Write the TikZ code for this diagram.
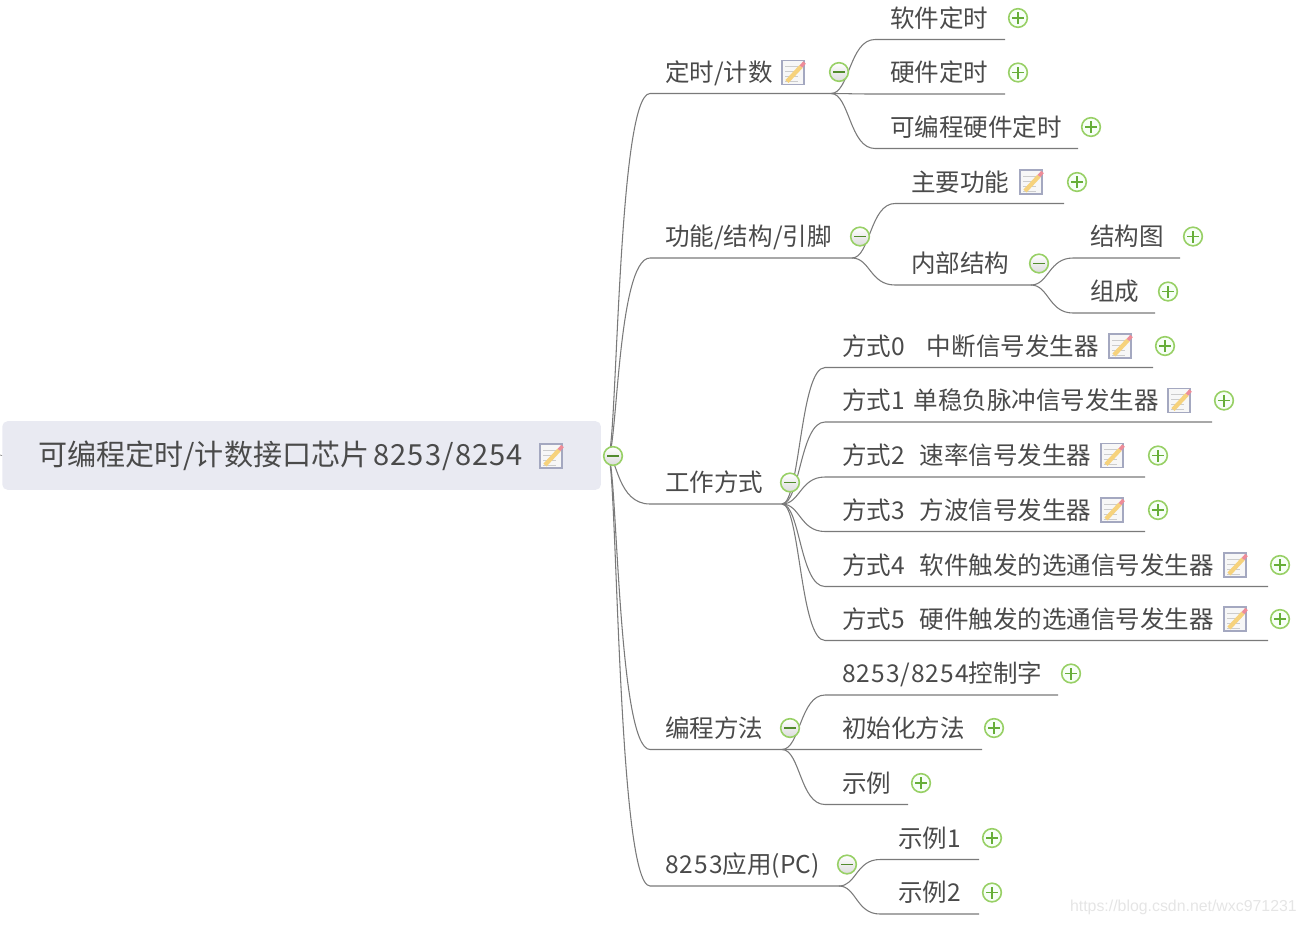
\documentclass[tikz,border=0pt]{standalone}
\usepackage{fontspec}
\setmainfont{Noto Sans CJK SC}
\newfontfamily\latfont[LetterSpace=4]{Noto Sans CJK SC}
\newcommand{\lat}[1]{{\latfont #1}}
\usetikzlibrary{calc,backgrounds,positioning}
\definecolor{rootfill}{HTML}{E9EAF2}
\definecolor{txt}{HTML}{4A4A4A}
\definecolor{linecol}{HTML}{7A7A7A}
\definecolor{btnline}{HTML}{98D066}
\definecolor{btnmark}{HTML}{66AE38}
\definecolor{iconline}{HTML}{A4A8C0}
\definecolor{pencil}{HTML}{F6D27C}
\definecolor{pencilend}{HTML}{EE8C98}
\tikzstyle{topic}=[anchor=west,inner sep=0pt,text height=16pt,text depth=2pt,text=txt,font=\fontsize{18.4}{20}\selectfont]
\tikzstyle{branch}=[draw=linecol,line width=.8pt]
\tikzstyle{btn}=[circle,inner sep=0pt,minimum size=14pt,draw=btnline,line width=1.2pt]
\tikzstyle{plusbtn}=[btn,fill=green!3,path picture={
  \draw[btnmark,line width=.8pt] ([xshift=-4.5pt]path picture bounding box.center) -- ([xshift=4.5pt]path picture bounding box.center);
  \draw[btnmark,line width=.8pt] ([yshift=-4.5pt]path picture bounding box.center) -- ([yshift=4.5pt]path picture bounding box.center);}]
\tikzstyle{minusbtn}=[btn,top color=white,bottom color=black!14,path picture={
  \draw[btnmark!80!black,line width=.9pt] ([xshift=-4.5pt]path picture bounding box.center) -- ([xshift=4.5pt]path picture bounding box.center);}]
\tikzset{noteicon/.pic={
  \draw[iconline,fill=black!3,line width=1pt] (-11,-12) rectangle (11,12);
  \foreach \y in {-6,-1,4,9} \draw[black!20,line width=.6pt] (-8,\y) -- (5,\y);
  \draw[pencil,line width=3.2pt] (-6,9) -- (8,-6);
  \draw[pencilend,line width=2.6pt] (8,-6) -- (11.5,-10);
}}
% name, parent, line start, text x, y, button x, line end, text
\newcommand{\topic}[9][plusbtn]{
  \node[topic] (#2) at (#5,#6) {#9};
  \node[#1] (#2b) at (#7,#6) {};
  \coordinate (#2s) at (#4,#6+21.5);
  \coordinate (#2e) at (#8,#6+21.5);
  \begin{pgfonlayer}{background}
    \draw[branch] (#3e) .. controls ($(#3e)!\bend!(#2s |- #3e)$) and ($(#3e |- #2s)!\bend!(#2s)$) .. (#2s) -- (#2e);
  \end{pgfonlayer}
}

\begin{document}
\begin{tikzpicture}[x=.75pt,y=-.75pt]
  \useasboundingbox (0,0) rectangle (1305,925);
  \node (root) at (2,455.5) [anchor=west,fill=rootfill,rounded corners=4pt,minimum height=51.5pt,inner xsep=27pt,text width=395pt,align=left,text=txt,font=\fontsize{21.8}{24}\selectfont] {可编程定时/计数接口芯片\hspace{3pt}\lat{8253/8254}};
  \coordinate (roote) at (608,456);
  \coordinate (stub) at (0,455);
  \draw[linecol,line width=.5pt] (stub) -- (root.west);
  \pic at (551,456) {noteicon};
  \def\bend{.22}
  \topic[minusbtn]{timing}{root}{650}{665}{72}{839}{831}{定时/计数}
  \topic[minusbtn]{func}{root}{650}{665}{236.5}{860}{852}{功能/结构/引脚}
  \topic[minusbtn]{mode}{root}{650}{665}{482.5}{790}{782}{工作方式}
  \topic[minusbtn]{prog}{root}{650}{665}{728}{790}{782}{编程方法}
  \topic[minusbtn]{appl}{root}{650}{665}{864.5}{847}{839}{\lat{8253}应用(PC)}
  \def\bend{.42}
  \topic{soft}{timing}{875}{890}{18}{1018}{1005}{软件定时}
  \topic{hard}{timing}{875}{890}{72.5}{1018}{1005}{硬件定时}
  \topic{pgm}{timing}{875}{890}{127}{1091}{1078}{可编程硬件定时}
  \pic at (793,72.5) {noteicon};
  \topic{mainf}{func}{895}{911}{182}{1077}{1064}{主要功能}
  \topic[minusbtn]{inner}{func}{895}{911}{263.5}{1039}{1031}{内部结构}
  \topic{struct}{inner}{1073}{1090}{236.5}{1193}{1180}{结构图}
  \topic{parts}{inner}{1073}{1090}{291.5}{1168}{1155}{组成}
  \pic at (1031,182) {noteicon};
  \topic{mzero}{mode}{825}{842}{346}{1165}{1153}{方式\lat{0}\hspace{16.5pt}中断信号发生器}
  \topic{mone}{mode}{825}{842}{400.5}{1224}{1212}{方式\lat{1}\hspace{6.5pt}单稳负脉冲信号发生器}
  \topic{mtwo}{mode}{825}{842}{455.5}{1158}{1145}{方式\lat{2}\hspace{11pt}速率信号发生器}
  \topic{mthree}{mode}{825}{842}{510}{1158}{1145}{方式\lat{3}\hspace{11pt}方波信号发生器}
  \topic{mfour}{mode}{825}{842}{565}{1280}{1268}{方式\lat{4}\hspace{11pt}软件触发的选通信号发生器}
  \topic{mfive}{mode}{825}{842}{619}{1280}{1268}{方式\lat{5}\hspace{11pt}硬件触发的选通信号发生器}
  \foreach \x/\y in {1120/346,1179/400.5,1112/455.5,1112/510,1235/565,1235/619}
    \pic at (\x,\y) {noteicon};
  \topic{word}{prog}{825}{842}{673.5}{1071}{1058}{\lat{8253/8254}控制字}
  \topic{init}{prog}{825}{842}{728}{994}{982}{初始化方法}
  \topic{expl}{prog}{825}{842}{783}{921}{908}{示例}
  \topic{exone}{appl}{880}{898}{838}{992}{979}{示例\lat{1}}
  \topic{extwo}{appl}{880}{898}{892.5}{992}{979}{示例\lat{2}}
  \node[minusbtn] (rootb) at (613,456) {};
  \node (wmark) at (1297,907) [anchor=east,inner sep=0pt,text=black!10,font=\fontsize{11.9}{14}\selectfont\fontspec{Liberation Sans}] {https://blog.csdn.net/wxc971231};
\end{tikzpicture}
\end{document}
